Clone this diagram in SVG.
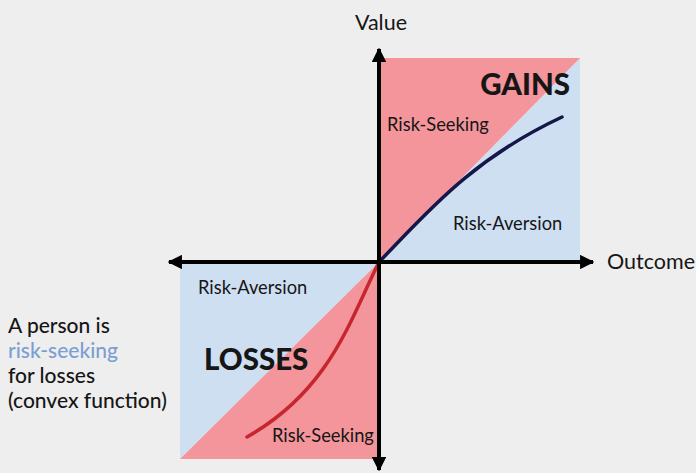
<svg xmlns="http://www.w3.org/2000/svg" width="696" height="473" viewBox="0 0 696 473">
<defs>
<style>
text{font-family:Lato,"Noto Sans","Liberation Sans",sans-serif;fill:#161616}
.lbl{font-size:18.3px}
.big{font-size:29.5px;font-weight:900}
.ax{font-size:21.5px}
.side{font-size:21px;font-weight:500}
</style>
<marker id="ah" viewBox="0 0 10 10" refX="9" refY="5" markerWidth="3.6" markerHeight="3.6" orient="auto" markerUnits="strokeWidth">
<path d="M0,0 L10,5 L0,10 Z" fill="#000"/>
</marker>
</defs>
<rect width="696" height="473" fill="#eeeeee"/>
<g id="gains-quadrant">
<polygon points="379,262 580,58 580,262" fill="#cfdff2"/>
<polygon points="379,262 379,58 580,58" fill="#f4959b"/>
</g>
<g id="losses-quadrant">
<polygon points="180,262 379,262 180,459" fill="#cfdff2"/>
<polygon points="379,262 379,459 180,459" fill="#f4959b"/>
</g>
<g id="curves" fill="none" stroke-linecap="round">
<path d="M379,262 C425,215 470,160 562,117" stroke="#15164a" stroke-width="3.5"/>
<path d="M379,262 C350,320 330,390 247,437" stroke="#c8262f" stroke-width="3.5"/>
</g>
<g id="axes" stroke="#000" stroke-width="4">
<line x1="379" y1="262" x2="593" y2="262" marker-end="url(#ah)"/>
<line x1="379" y1="262" x2="169" y2="262" marker-end="url(#ah)"/>
<line x1="379" y1="262" x2="379" y2="49" marker-end="url(#ah)"/>
<line x1="379" y1="262" x2="379" y2="470" marker-end="url(#ah)"/>
</g>
<g id="labels">
<text class="ax" x="381" y="30" text-anchor="middle">Value</text>
<text class="ax" x="607" y="269">Outcome</text>
<text class="big" x="570" y="95" text-anchor="end">GAINS</text>
<text class="lbl" x="387" y="131">Risk-Seeking</text>
<text class="lbl" x="453" y="230">Risk-Aversion</text>
<text class="lbl" x="198" y="294">Risk-Aversion</text>
<text class="big" x="204" y="370">LOSSES</text>
<text class="lbl" x="272" y="442">Risk-Seeking</text>
</g>
<g id="side-note">
<text class="side" x="8" y="333">A person is</text>
<text class="side" x="8" y="358" style="fill:#7b9fd3">risk-seeking</text>
<text class="side" x="8" y="383">for losses</text>
<text class="side" x="8" y="408">(convex function)</text>
</g>
</svg>
